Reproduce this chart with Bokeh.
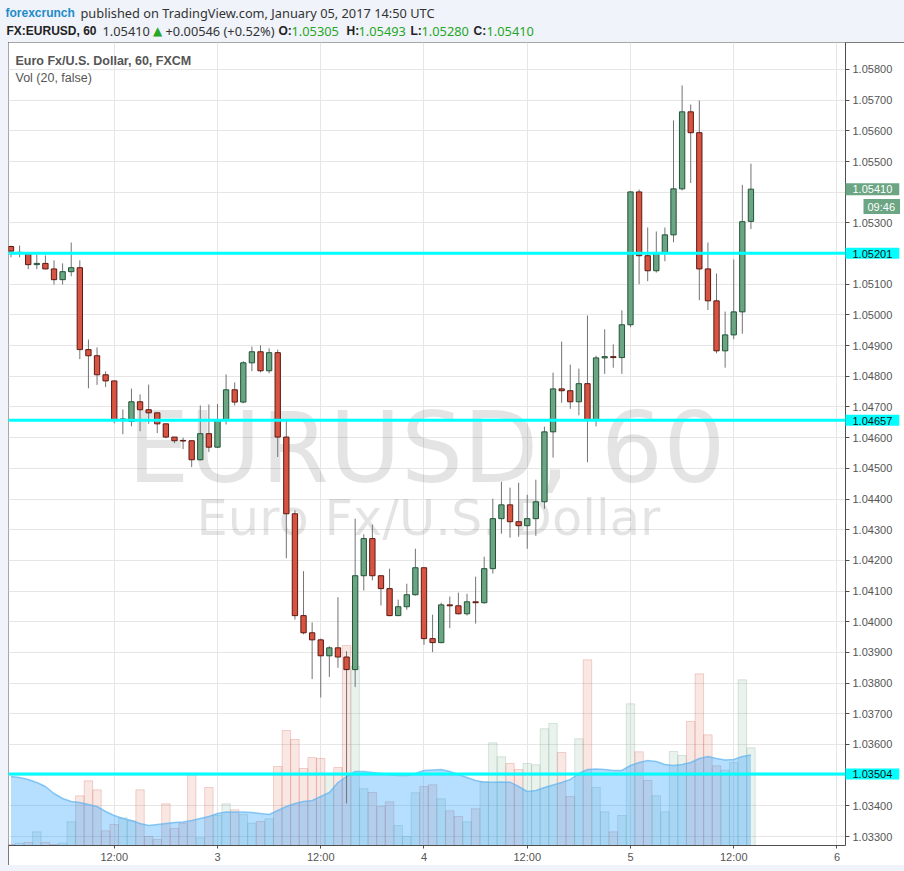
import pandas as pd
from bokeh.plotting import figure
from bokeh.models import (Range1d, FixedTicker, CustomJSTickFormatter, Label, Span, Spacer,
                          ColumnDataSource, NumeralTickFormatter, GlobalInlineStyleSheet)
from bokeh.layouts import column, row
from bokeh.embed import file_html
from bokeh.resources import INLINE

# ---------------- data (EURUSD, 60 min, FXCM) ----------------
opens = [
    1.05223, 1.05202, 1.05199, 1.05164, 1.05168, 1.05150, 1.05115, 1.05141, 1.05154, 1.04887,
    1.04867, 1.04805, 1.04785, 1.04656, 1.04653, 1.04717, 1.04691, 1.04681, 1.04645, 1.04602,
    1.04591, 1.04590, 1.04528, 1.04613, 1.04569, 1.04659, 1.04756, 1.04716, 1.04844, 1.04880,
    1.04818, 1.04877, 1.04602, 1.04352, 1.04020, 1.03964, 1.03941, 1.03889, 1.03915, 1.03885,
    1.03844, 1.04150, 1.04271, 1.04150, 1.04108, 1.04020, 1.04049, 1.04088, 1.04176, 1.03945,
    1.03932, 1.04055, 1.04052, 1.04026, 1.04065, 1.04062, 1.04173, 1.04336, 1.04381, 1.04326,
    1.04313, 1.04336, 1.04391, 1.04619, 1.04759, 1.04753, 1.04717, 1.04776, 1.04658, 1.04860,
    1.04864, 1.04861, 1.04968, 1.05401, 1.05193, 1.05144, 1.05203, 1.05261, 1.05411, 1.05662,
    1.05594, 1.05150, 1.05046, 1.04883, 1.04935, 1.05010, 1.05305]
highs = [
    1.05226, 1.05226, 1.05204, 1.05197, 1.05194, 1.05178, 1.05168, 1.05236, 1.05178, 1.04920,
    1.04894, 1.04816, 1.04785, 1.04692, 1.04760, 1.04741, 1.04773, 1.04681, 1.04645, 1.04602,
    1.04600, 1.04590, 1.04705, 1.04708, 1.04710, 1.04806, 1.04780, 1.04849, 1.04897, 1.04901,
    1.04891, 1.04887, 1.04656, 1.04363, 1.04165, 1.03998, 1.03945, 1.03920, 1.04080, 1.03904,
    1.04336, 1.04285, 1.04317, 1.04150, 1.04173, 1.04072, 1.04124, 1.04238, 1.04176, 1.04023,
    1.04062, 1.04082, 1.04095, 1.04091, 1.04147, 1.04212, 1.04401, 1.04456, 1.04437, 1.04453,
    1.04414, 1.04463, 1.04636, 1.04812, 1.04913, 1.04838, 1.04825, 1.04998, 1.04867, 1.04953,
    1.04904, 1.05015, 1.05403, 1.05409, 1.05285, 1.05272, 1.05285, 1.05634, 1.05748, 1.05686,
    1.05699, 1.05236, 1.05135, 1.05011, 1.05181, 1.05424, 1.05493]
lows = [
    1.05188, 1.05188, 1.05149, 1.05149, 1.05149, 1.05099, 1.05099, 1.05126, 1.04856, 1.04761,
    1.04772, 1.04765, 1.04647, 1.04611, 1.04637, 1.04621, 1.04645, 1.04615, 1.04598, 1.04582,
    1.04563, 1.04504, 1.04526, 1.04553, 1.04567, 1.04643, 1.04705, 1.04712, 1.04817, 1.04813,
    1.04810, 1.04537, 1.04207, 1.04007, 1.03959, 1.03813, 1.03753, 1.03820, 1.03850, 1.03408,
    1.03787, 1.04102, 1.04135, 1.04053, 1.04018, 1.04018, 1.04039, 1.04085, 1.03925, 1.03901,
    1.03930, 1.03979, 1.04024, 1.04020, 1.03994, 1.04059, 1.04157, 1.04287, 1.04274, 1.04277,
    1.04238, 1.04280, 1.04368, 1.04535, 1.04714, 1.04694, 1.04673, 1.04520, 1.04637, 1.04808,
    1.04828, 1.04808, 1.04960, 1.05100, 1.05110, 1.05138, 1.05175, 1.05237, 1.05406, 1.05430,
    1.05048, 1.05016, 1.04875, 1.04828, 1.04921, 1.04939, 1.05280]
closes = [
    1.05208, 1.05204, 1.05164, 1.05168, 1.05150, 1.05115, 1.05141, 1.05154, 1.04887, 1.04867,
    1.04805, 1.04785, 1.04656, 1.04661, 1.04717, 1.04691, 1.04681, 1.04645, 1.04602, 1.04590,
    1.04589, 1.04528, 1.04613, 1.04569, 1.04659, 1.04756, 1.04716, 1.04844, 1.04880, 1.04818,
    1.04877, 1.04602, 1.04352, 1.04020, 1.03964, 1.03941, 1.03889, 1.03915, 1.03885, 1.03844,
    1.04150, 1.04271, 1.04150, 1.04108, 1.04020, 1.04049, 1.04088, 1.04176, 1.03945, 1.03932,
    1.04055, 1.04052, 1.04026, 1.04065, 1.04062, 1.04173, 1.04336, 1.04381, 1.04326, 1.04313,
    1.04336, 1.04391, 1.04619, 1.04759, 1.04753, 1.04717, 1.04776, 1.04658, 1.04860, 1.04864,
    1.04861, 1.04968, 1.05401, 1.05193, 1.05144, 1.05203, 1.05261, 1.05411, 1.05662, 1.05594,
    1.05150, 1.05046, 1.04883, 1.04935, 1.05010, 1.05304, 1.05410]
volumes = [
    10, 23, 30, 137, 30, 10, 23, 237, 497, 647,
    557, 147, 210, 277, 247, 557, 90, 60, 417, 170,
    223, 713, 77, 580, 300, 417, 357, 310, 223, 240,
    267, 790, 1150, 1060, 770, 880, 870, 717, 780, 2000,
    1793, 567, 530, 390, 437, 200, 90, 527, 590, 607,
    467, 347, 290, 237, 367, 640, 1027, 887, 820, 760,
    820, 807, 1167, 1220, 930, 490, 1067, 1857, 580, 337,
    137, 300, 1417, 937, 650, 497, 337, 940, 900, 1240,
    1717, 1107, 797, 753, 830, 1657, 977]
vol_ma = [
    690, 680, 660, 630, 590, 520, 470, 440, 430, 410,
    390, 340, 300, 270, 250, 220, 200, 210, 220, 230,
    235, 250, 270, 290, 320, 335, 335, 335, 330, 320,
    310, 350, 390, 420, 440, 450, 490, 530, 630, 690,
    740, 740, 730, 720, 710, 700, 700, 720, 750, 755,
    760, 740, 710, 680, 650, 633, 633, 635, 633, 590,
    540, 550, 580, 605, 630, 660, 720, 760, 765, 760,
    750, 750, 800, 830, 850, 840, 810, 800, 810, 830,
    870, 890, 870, 855, 860, 890, 905]
levels = [1.05201, 1.04657, 1.03504]
last_price = 1.05410
countdown = "09:46"
price_ticks = [1.033, 1.034, 1.035, 1.036, 1.037, 1.038, 1.039, 1.040, 1.041, 1.042,
               1.043, 1.044, 1.045, 1.046, 1.047, 1.048, 1.049, 1.050, 1.051, 1.052,
               1.053, 1.054, 1.055, 1.056, 1.057, 1.058]
hidden_price_ticks = [1.035, 1.052, 1.054]
time_ticks = ["2017-01-02 12:00", "2017-01-03 00:00", "2017-01-03 12:00", "2017-01-04 00:00",
              "2017-01-04 12:00", "2017-01-05 00:00", "2017-01-05 12:00", "2017-01-06 00:00"]
times = pd.date_range("2017-01-02 00:00", periods=len(opens), freq="h")

# ---------------- styling ----------------
UP, UP_LINE = "#6ba583", "#225437"
DN, DN_LINE = "#d75442", "#5b1a13"
WICK = "#737375"
BG = "#f0f3fa"
AXC = "#4f4f4f"
TXT = "#555555"
FONT = "Liberation Sans"
HOUR = 3600 * 1000

def ms(s):
    return pd.Timestamp(s).value // 10**6

up = [c >= o for o, c in zip(opens, closes)]
src = ColumnDataSource(dict(
    t=times, o=opens, h=highs, l=lows, c=closes,
    top=[max(o, c) for o, c in zip(opens, closes)],
    bot=[min(o, c) for o, c in zip(opens, closes)],
    fill=[UP if u else DN for u in up],
    line=[UP_LINE if u else DN_LINE for u in up],
    v=volumes, ma=vol_ma,
    vcol=[UP if u else DN for u in up],
))

x_start = pd.Timestamp("2017-01-01 23:42:36")
x_end = pd.Timestamp("2017-01-06 00:59:24")
x_end_ms = x_end.value // 10**6

p = figure(frame_width=837, frame_height=803, x_axis_type="datetime", y_axis_location="right",
           x_range=Range1d(x_start, x_end), y_range=Range1d(1.032707, 1.05888),
           toolbar_location=None, output_backend="svg",
           min_border_left=0, min_border_top=0, min_border_right=53, min_border_bottom=18,
           background_fill_color="white", border_fill_color="white")
p.extra_y_ranges = {"vol": Range1d(0, 8030)}
p.outline_line_color = None

# grid
p.xgrid.ticker = FixedTicker(ticks=[ms(s) for s in time_ticks])
p.ygrid.ticker = FixedTicker(ticks=price_ticks)
p.grid.grid_line_color = "#e6e6e6"

# axes
p.xaxis.ticker = FixedTicker(ticks=[ms(s) for s in time_ticks])
p.xaxis.formatter = CustomJSTickFormatter(code="""
const d = new Date(tick);
const h = d.getUTCHours();
if (h === 0) { return String(d.getUTCDate()); }
return (h < 10 ? "0" : "") + h + ":00";
""")
p.yaxis.ticker = FixedTicker(ticks=[t for t in price_ticks if t not in hidden_price_ticks])
p.yaxis.formatter = NumeralTickFormatter(format="0.00000")
for ax in (p.xaxis[0], p.yaxis[0]):
    ax.axis_line_color = AXC
    ax.major_tick_line_color = AXC
    ax.minor_tick_line_color = None
    ax.major_tick_in = 0
    ax.major_label_text_font = FONT
    ax.major_label_text_font_size = "11px"
    ax.major_label_text_color = TXT
p.xaxis.major_tick_out = 3
p.xaxis.major_label_standoff = 2
p.yaxis.major_tick_out = 4
p.yaxis.major_label_standoff = 3

# watermark
for txt, xx, yy, fs in (("EURUSD, 60", 418, 398, "98px"), ("Euro Fx/U.S. Dollar", 420, 328, "49.5px")):
    p.add_layout(Label(x=xx, y=yy, x_units="screen", y_units="screen", text=txt,
                       text_align="center", text_baseline="alphabetic",
                       text_font="DejaVu Sans", text_font_size=fs,
                       text_color="#000000", text_alpha=0.105, level="underlay"))

# volume bars + MA area
p.vbar(x="t", width=0.98 * HOUR, top="v", bottom=0, y_range_name="vol", source=src,
       fill_color="vcol", fill_alpha=0.14, line_color="vcol", line_alpha=0.24, line_width=1)
p.varea(x="t", y1=0, y2="ma", y_range_name="vol", source=src,
        fill_color="#1e9bff", fill_alpha=0.33)
p.line(x="t", y="ma", y_range_name="vol", source=src, line_color="#5fb3f0",
       line_alpha=0.7, line_width=1.5)

# candles
p.segment(x0="t", y0="h", x1="t", y1="l", source=src, line_color=WICK, line_width=1)
p.vbar(x="t", width=0.62 * HOUR, top="top", bottom="bot", source=src,
       fill_color="fill", line_color="line", line_width=1)

# horizontal levels
for lv in levels:
    p.add_layout(Span(location=lv, dimension="width", line_color="#00ffff", line_width=3))

# price-scale boxes (side panel, so they are not clipped to the frame)
for lv in levels:
    p.add_layout(Label(x=x_end_ms, y=lv, text=f"{lv:.5f}",
                       text_align="left", text_baseline="middle", text_font=FONT,
                       text_font_size="11px", text_color="#111111",
                       background_fill_color="#00ffff", padding=(7, 7, 2, 1)), "right")
p.add_layout(Label(x=x_end_ms, y=last_price, text=f"{last_price:.5f}",
                   text_align="left", text_baseline="middle", text_font=FONT,
                   text_font_size="11px", text_color="white",
                   background_fill_color=UP, padding=(7, 7, 2, 2)), "right")
p.add_layout(Label(x=x_end_ms, x_offset=18, y=1.053535, text=countdown,
                   text_align="left", text_baseline="middle", text_font=FONT,
                   text_font_size="11px", text_color="white",
                   background_fill_color=UP, padding=(4, 5, 2, 1)), "right")

# legend texts
p.add_layout(Label(x=7, y=785, x_units="screen", y_units="screen",
                   text="Euro Fx/U.S. Dollar, 60, FXCM", text_baseline="middle",
                   text_font=FONT, text_font_size="12.5px", text_font_style="bold",
                   text_color=TXT))
p.add_layout(Label(x=7, y=768, x_units="screen", y_units="screen",
                   text="Vol (20, false)", text_baseline="middle",
                   text_font=FONT, text_font_size="12.5px", text_color=TXT))

p.styles = {"outline": "1px solid #4f4f4f", "outline-offset": "-1px"}

# ---------------- header ----------------
h = figure(width=904, height=42, x_range=Range1d(0, 904), y_range=Range1d(42, 0),
           toolbar_location=None, output_backend="svg", x_axis_location=None,
           y_axis_location=None, min_border=0,
           background_fill_color=BG, border_fill_color=BG)
h.grid.visible = False
h.outline_line_color = None

GREEN = "#27a627"
DARK = "#333333"
REG = "Noto Sans"
Y1, Y2 = 12, 30.5
segments = [
    ("forexcrunch", 5, Y1, "#1e8cc8", "bold", FONT, "12px"),
    ("published on TradingView.com, January 05, 2017 14:50 UTC", 80, Y1, DARK, "normal", REG, "12.8px"),
    ("FX:EURUSD, 60", 6, Y2, "#222222", "bold", FONT, "12px"),
    ("1.05410", 102, Y2, DARK, "normal", REG, "12.8px"),
    ("+0.00546 (+0.52%)", 165, Y2, DARK, "normal", REG, "12.8px"),
    ("O:", 278, Y2, "#222222", "bold", FONT, "12px"), ("1.05305", 291, Y2, GREEN, "normal", REG, "12.8px"),
    ("H:", 346, Y2, "#222222", "bold", FONT, "12px"), ("1.05493", 358, Y2, GREEN, "normal", REG, "12.8px"),
    ("L:", 410, Y2, "#222222", "bold", FONT, "12px"), ("1.05280", 421, Y2, GREEN, "normal", REG, "12.8px"),
    ("C:", 473, Y2, "#222222", "bold", FONT, "12px"), ("1.05410", 486, Y2, GREEN, "normal", REG, "12.8px"),
]
for txt, xx, yy, col, st, fnt, fs in segments:
    h.add_layout(Label(x=xx, y=yy, text=txt, text_align="left", text_baseline="middle",
                       text_font=fnt, text_font_size=fs, text_color=col,
                       text_font_style=st))
h.add_layout(Label(x=157, y=Y2, text="\u25b2", text_align="center", text_baseline="middle",
                   text_font="DejaVu Sans", text_font_size="12px", text_color=GREEN))

layout = column(h, row(Spacer(width=8, height=821), p, spacing=0), spacing=0)
layout.stylesheets = [GlobalInlineStyleSheet(css="body { background-color: #f0f3fa; }")]

open("out.html", "w").write(file_html(layout, INLINE, title="EURUSD 60"))
